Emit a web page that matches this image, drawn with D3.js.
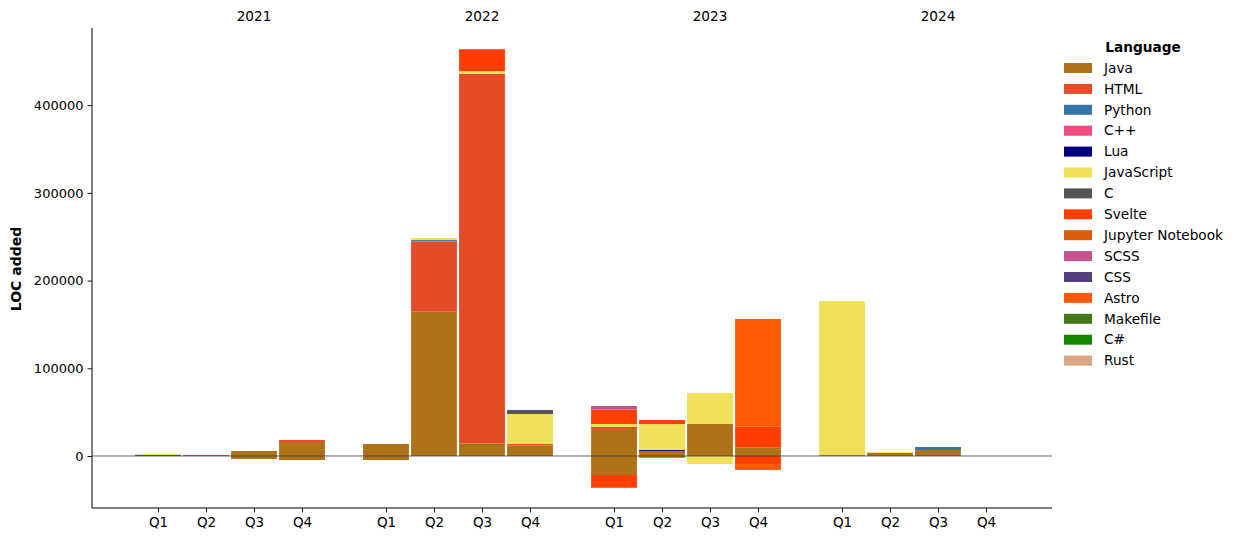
<!DOCTYPE html>
<html>
<head>
<meta charset="utf-8">
<script src="https://cdn.jsdelivr.net/npm/d3@7"></script>
<style>
  body { margin: 0; background: #fff; }
  svg { font-family: "DejaVu Sans", sans-serif; }
</style>
</head>
<body>
<svg id="chart" width="1239" height="542"></svg>
<script>
// ---------- data ----------
const years = ["2021", "2022", "2023", "2024"];
const quarters = ["Q1", "Q2", "Q3", "Q4"];
const languages = ["Java", "HTML", "Python", "C++", "Lua", "JavaScript", "C", "Svelte",
  "Jupyter Notebook", "SCSS", "CSS", "Astro", "Makefile", "C#", "Rust"];
const colors = ["#B07219", "#E34C26", "#3572A5", "#F34B7D", "#000080", "#F1E05A", "#555555",
  "#FF3E00", "#DA5B0B", "#C6538C", "#563D7C", "#FF5A03", "#427819", "#178600", "#DEA584"];

// LOC added per language, 16 quarters (2021 Q1 .. 2024 Q4)
const added = {
  "Java":       [0, 0, 5700, 16000, 13700, 164500, 14200, 12200, 30800, 5700, 36500, 9500, 1000, 3400, 6800, 0],
  "HTML":       [0, 0, 0, 2300, 0, 80200, 421600, 1500, 2300, 0, 0, 0, 0, 0, 0, 0],
  "Python":     [1200, 0, 0, 0, 0, 1500, 0, 0, 0, 0, 0, 0, 0, 0, 3400, 0],
  "C++":        [0, 1200, 0, 0, 0, 0, 0, 0, 0, 0, 0, 0, 0, 0, 0, 0],
  "Lua":        [0, 0, 0, 0, 0, 0, 0, 0, 0, 1100, 0, 0, 0, 0, 0, 0],
  "JavaScript": [1000, 0, 0, 0, 0, 2300, 3000, 34200, 3400, 29600, 35300, 0, 175600, 1100, 0, 0],
  "C":          [0, 0, 0, 0, 0, 0, 0, 4600, 0, 0, 0, 0, 0, 0, 0, 0],
  "Svelte":     [0, 0, 0, 0, 0, 0, 25000, 0, 16300, 4600, 0, 23900, 0, 0, 0, 0],
  "Jupyter Notebook": [0, 0, 0, 0, 0, 0, 0, 0, 0, 0, 0, 0, 0, 0, 0, 0],
  "SCSS":       [0, 0, 0, 0, 0, 0, 0, 0, 4200, 0, 0, 0, 0, 0, 0, 0],
  "CSS":        [0, 0, 0, 0, 0, 0, 0, 0, 0, 0, 0, 0, 0, 0, 0, 0],
  "Astro":      [0, 0, 0, 0, 0, 0, 0, 0, 0, 0, 0, 122800, 0, 0, 0, 0],
  "Makefile":   [0, 0, 0, 0, 0, 0, 0, 0, 0, 0, 0, 0, 0, 0, 0, 0],
  "C#":         [0, 0, 0, 0, 0, 0, 0, 0, 0, 0, 0, 0, 0, 0, 0, 0],
  "Rust":       [0, 0, 0, 0, 0, 0, 0, 0, 0, 0, 0, 0, 0, 0, 0, 0]
};
// LOC removed per language (negative), 16 quarters
const removed = {
  "Java":       [0, 0, -3400, -4600, -4600, 0, 0, 0, -21700, -1200, 0, 0, 0, 0, 0, 0],
  "JavaScript": [0, 0, 0, 0, 0, 0, 0, 0, 0, 0, -9100, 0, 0, 0, 0, 0],
  "Svelte":     [0, 0, 0, 0, 0, 0, 0, 0, -14500, -800, 0, -9100, 0, 0, 0, 0],
  "Astro":      [0, 0, 0, 0, 0, 0, 0, 0, 0, 0, 0, -6800, 0, 0, 0, 0]
};
const yTicks = [0, 100000, 200000, 300000, 400000];

// ---------- layout ----------
const svg = d3.select("#chart");
const plot = { left: 92, right: 1052, top: 28, bottom: 508 };
const groupStep = 4.75;
const slots = [];
years.forEach((yr, yi) => quarters.forEach((q, qi) => slots.push({ year: yr, q, pos: yi * groupStep + qi })));

const x = d3.scaleLinear().domain([-1.375, 3 * groupStep + 3 + 1.375]).range([plot.left, plot.right]);
const y = d3.scaleLinear().domain([-59300, 488000]).range([plot.bottom, plot.top]);
const barW = (x(1) - x(0)) * 0.955;

// stacked segments
const segs = [];
slots.forEach((s, i) => {
  let pos = 0, neg = 0;
  languages.forEach((lang, li) => {
    const a = (added[lang] || [])[i] || 0;
    if (a > 0) { segs.push({ i, lang, li, y0: pos, y1: pos + a }); pos += a; }
    const r = (removed[lang] || [])[i] || 0;
    if (r < 0) { segs.push({ i, lang, li, y0: neg + r, y1: neg }); neg += r; }
  });
});

svg.append("g").selectAll("rect").data(segs).join("rect")
  .attr("x", d => x(slots[d.i].pos) - barW / 2)
  .attr("width", barW)
  .attr("y", d => y(d.y1))
  .attr("height", d => Math.max(0, y(d.y0) - y(d.y1)))
  .attr("fill", d => colors[d.li]);

// zero line
svg.append("line")
  .attr("x1", plot.left).attr("x2", plot.right)
  .attr("y1", y(0)).attr("y2", y(0))
  .attr("stroke", "#333").attr("stroke-opacity", 0.85).attr("stroke-width", 0.9);

// y axis
const yAxis = d3.axisLeft(y).tickValues(yTicks).tickFormat(d3.format("d")).tickSizeOuter(0).tickSize(4.5).tickPadding(4);
const gy = svg.append("g").attr("transform", `translate(${plot.left},0)`).call(yAxis);
gy.select(".domain").remove();
gy.selectAll("text").attr("font-size", 13).attr("font-family", "DejaVu Sans").attr("fill", "#000");
gy.selectAll("line").attr("stroke", "#000").attr("stroke-width", 0.9);
svg.append("line").attr("x1", plot.left).attr("x2", plot.left).attr("y1", plot.top).attr("y2", plot.bottom)
  .attr("stroke", "#000").attr("stroke-width", 1);

// x axis (quarters)
const xAxis = d3.axisBottom(x).tickValues(slots.map(s => s.pos))
  .tickFormat((d, i) => slots[i].q).tickSizeOuter(0).tickSize(4.5).tickPadding(5);
const gx = svg.append("g").attr("transform", `translate(0,${plot.bottom})`).call(xAxis);
gx.select(".domain").remove();
gx.selectAll("text").attr("font-size", 13.5).attr("font-family", "DejaVu Sans").attr("fill", "#000");
gx.selectAll("line").attr("stroke", "#000").attr("stroke-width", 0.9);
svg.append("line").attr("x1", plot.left).attr("x2", plot.right).attr("y1", plot.bottom).attr("y2", plot.bottom)
  .attr("stroke", "#000").attr("stroke-width", 1);

// year labels at top
svg.append("g").selectAll("text").data(years).join("text")
  .attr("x", (d, yi) => x(yi * groupStep + 2))
  .attr("y", 21)
  .attr("text-anchor", "middle")
  .attr("font-size", 13.6)
  .text(d => d);

// y label
svg.append("text")
  .attr("transform", `translate(21,${(plot.top + plot.bottom) / 2 + 1}) rotate(-90)`)
  .attr("text-anchor", "middle")
  .attr("font-size", 14)
  .attr("font-weight", "bold")
  .text("LOC added");

// legend
const lg = svg.append("g");
lg.append("text").attr("x", 1143).attr("y", 52).attr("text-anchor", "middle")
  .attr("font-size", 13.7).attr("font-weight", "bold").text("Language");
const rows = lg.selectAll("g.row").data(languages).join("g").attr("class", "row")
  .attr("transform", (d, i) => `translate(0,${68 + i * 20.9})`);
rows.append("rect").attr("x", 1064).attr("y", -5).attr("width", 28).attr("height", 10)
  .attr("fill", (d, i) => colors[i]);
rows.append("text").attr("x", 1104).attr("y", 0).attr("dy", "0.35em")
  .attr("font-size", 13.7).text(d => d);
</script>
</body>
</html>
